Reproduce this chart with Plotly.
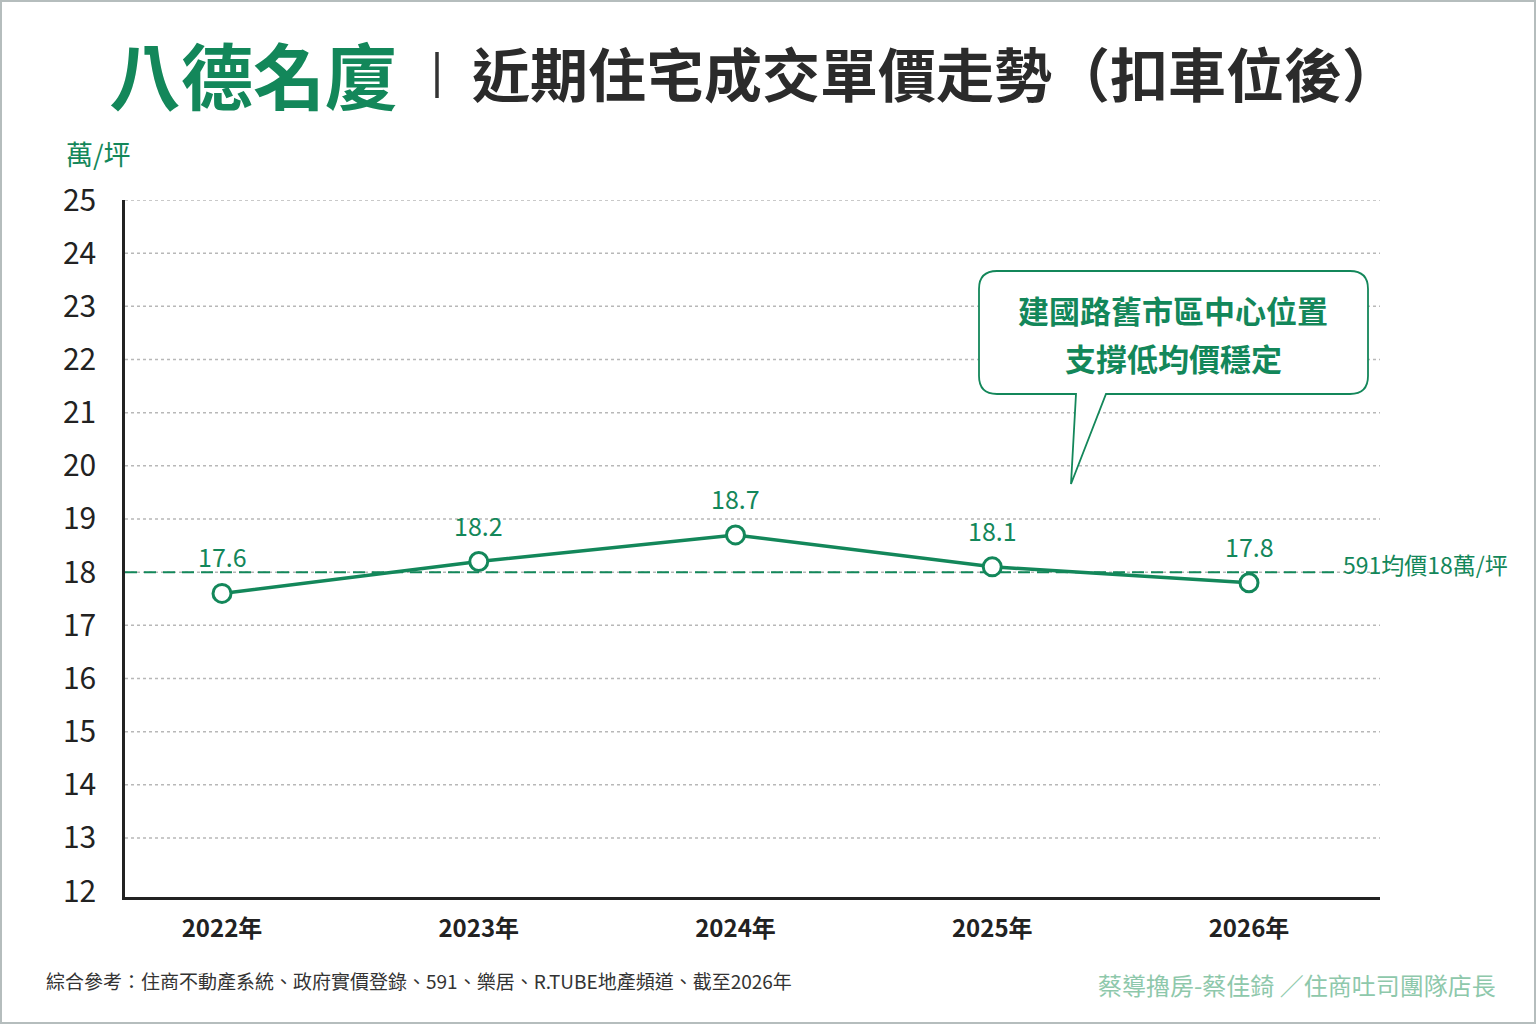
import plotly.graph_objects as go

# 資料
years = [2022, 2023, 2024, 2025, 2026]
prices = [17.6, 18.2, 18.7, 18.1, 17.8]
year_labels = ["2022年", "2023年", "2024年", "2025年", "2026年"]
y_ticks = list(range(12, 26))
avg_price = 18
avg_label = "591均價18萬/坪"

title_main = "八德名廈"
title_sub = "近期住宅成交單價走勢（扣車位後）"
unit_label = "萬/坪"
callout_lines = ["建國路舊市區中心位置", "支撐低均價穩定"]
source_note = "綜合參考：住商不動產系統、政府實價登錄、591、樂居、R.TUBE地產頻道、截至2026年"
credit = "蔡導擼房-蔡佳錡 ／住商吐司團隊店長"

GREEN = "#13875a"
FONT = "Noto Sans CJK TC"

W, H = 1536, 1024
L, R, T, B = 125, 1380, 200, 897   # 繪圖區像素邊界


def px(x, y):
    # 像素座標 -> paper 座標
    return (x - L) / (R - L), (B - y) / (B - T)


def add_text(x, y, text, size, color, xanchor="center", bold=False):
    ax, ay = px(x, y)
    fig.add_annotation(x=ax, y=ay, xref="paper", yref="paper",
                       xanchor=xanchor, yanchor="middle", showarrow=False,
                       text=f"<b>{text}</b>" if bold else text,
                       font=dict(family=FONT, size=size, color=color))


fig = go.Figure()

fig.add_trace(go.Scatter(
    x=years,
    y=prices,
    mode="lines+markers",
    line=dict(color=GREEN, width=3.5),
    marker=dict(size=18, color="white", line=dict(color=GREEN, width=3)),
    hoverinfo="x+y",
    showlegend=False,
))

# 數值標籤
for x, v in zip(years, prices):
    fig.add_annotation(
        x=x, y=v, text=f"{v}", showarrow=False, yshift=37,
        font=dict(family=FONT, size=25, color=GREEN),
    )

# 虛線格線
for v in y_ticks[1:]:
    fig.add_shape(type="line", xref="paper", yref="y", x0=0, x1=1, y0=v, y1=v,
                  line=dict(color="#b8b8b8", width=1.5, dash="dot"), layer="below")

# 591 均價參考線
fig.add_shape(type="line", xref="paper", yref="y", x0=0, x1=px(1335, 0)[0],
              y0=avg_price, y1=avg_price,
              line=dict(color=GREEN, width=2, dash="12px,7px"), layer="below")
fig.add_annotation(x=px(1341, 0)[0], xref="paper", y=avg_price, yref="y",
                   yshift=8, xanchor="left", yanchor="middle", showarrow=False,
                   text=avg_label, font=dict(family=FONT, size=23, color=GREEN))

# 對話框
x0, x1, y0, y1, r = 979, 1368, 271, 394, 18
pts = [
    ("M", [(x0 + r, y0)]),
    ("L", [(x1 - r, y0)]),
    ("Q", [(x1, y0), (x1, y0 + r)]),
    ("L", [(x1, y1 - r)]),
    ("Q", [(x1, y1), (x1 - r, y1)]),
    ("L", [(1106, y1)]),
    ("L", [(1071, 484)]),
    ("L", [(1076, y1)]),
    ("L", [(x0 + r, y1)]),
    ("Q", [(x0, y1), (x0, y1 - r)]),
    ("L", [(x0, y0 + r)]),
    ("Q", [(x0, y0), (x0 + r, y0)]),
]
path = ""
for cmd, coords in pts:
    path += cmd + " " + " ".join("%.5f,%.5f" % px(a, b) for a, b in coords) + " "
path += "Z"
fig.add_shape(type="path", xref="paper", yref="paper", path=path,
              fillcolor="white", line=dict(color=GREEN, width=1.8))
for i, line_text in enumerate(callout_lines):
    add_text(1173, 309 + i * 48, line_text, 31, GREEN, bold=True)

# 標題
add_text(107, 72, title_main, 72, GREEN, xanchor="left", bold=True)
sx0, sy0 = px(437, 52)
sx1, sy1 = px(437, 98)
fig.add_shape(type="line", xref="paper", yref="paper", x0=sx0, x1=sx1, y0=sy0, y1=sy1,
              line=dict(color="#333333", width=3.5))
add_text(470, 72, title_sub, 58, "#2b2b2b", xanchor="left", bold=True)

# 單位
add_text(64, 153, unit_label, 27, GREEN, xanchor="left")

# 資料來源與署名
add_text(44, 980, source_note, 19, "#333333", xanchor="left")
add_text(1498, 984, credit, 24, "#8ec8ab", xanchor="right")

# 外框
bx0, by0 = px(1, 1)
bx1, by1 = px(1535, 1023)
fig.add_shape(type="rect", xref="paper", yref="paper", x0=bx0, x1=bx1, y0=by0, y1=by1,
              line=dict(color="#b5bdbd", width=2))

span = (years[-1] - years[0]) / (1249 - 222)
fig.update_layout(
    width=W, height=H,
    plot_bgcolor="white",
    paper_bgcolor="white",
    font=dict(family=FONT, color="#222222"),
    margin=dict(l=L, r=W - R, t=T, b=H - B),
    showlegend=False,
)

fig.update_xaxes(
    range=[years[0] - (222 - L) * span, years[-1] + (R - 1249) * span],
    tickvals=years,
    ticktext=[f"<b>{t}</b>" for t in year_labels],
    tickfont=dict(family=FONT, size=24, color="#222222"),
    showgrid=False,
    zeroline=False,
    showline=True,
    linecolor="#222222",
    linewidth=2.5,
    ticks="",
    ticklabelstandoff=8,
)

fig.update_yaxes(
    range=[11.89, 25],
    tickvals=y_ticks,
    tickfont=dict(family=FONT, size=30, color="#222222"),
    showgrid=False,
    zeroline=False,
    showline=True,
    linecolor="#222222",
    linewidth=2.5,
    ticks="",
    ticklabelstandoff=20,
)

fig.write_html("out.html", config={"displayModeBar": False},
               post_script="document.body.style.margin='0';")
